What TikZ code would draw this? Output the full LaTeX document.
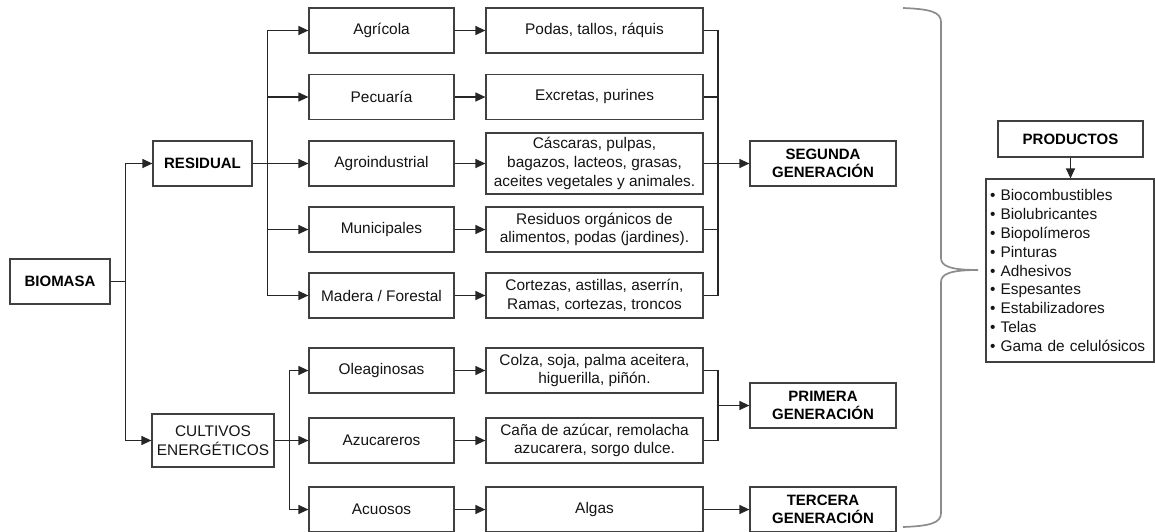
\documentclass[tikz,border=0pt]{standalone}
\usepackage{fontspec}
\setmainfont{Liberation Sans}
\usetikzlibrary{arrows.meta}
\begin{document}
\begin{tikzpicture}[x=1pt,y=-1pt,
  box/.style={draw=black!75, line width=1.2pt, fill=white, align=center, inner sep=2pt,
    text=black!92, font=\fontsize{15.4}{18.6}\selectfont},
  bbox/.style={box, text=black, font=\bfseries\fontsize{15}{18}\selectfont},
  c1/.style={box, minimum width=145pt, minimum height=45pt},
  c2/.style={box, minimum width=217pt, minimum height=45pt},
  gen/.style={bbox, minimum width=146pt, minimum height=45pt},
  ln/.style={draw=black!85, line width=1.2pt},
  arr/.style={ln, -{Triangle[length=10pt,width=9pt]}},
  brace/.style={draw=black!45, line width=1.7pt}]
\useasboundingbox (0,0) rectangle (1155,531);

% left
\node[bbox, minimum width=100pt, minimum height=45pt] (biomasa) at (60,281.5) {BIOMASA};
\node[bbox, minimum width=99pt, minimum height=45pt] (residual) at (202.5,163.5) {RESIDUAL};
\node[box, minimum width=122pt, minimum height=53pt] (cultivos) at (213,440.5) {CULTIVOS\\ENERGÉTICOS};

% column 1
\node[c1] (agricola) at (381.5,30.5) {Agrícola};
\node[c1] (pecuaria) at (381.5,97) {Pecuaría};
\node[c1] (agroind) at (381.5,163.5) {Agroindustrial};
\node[c1] (municip) at (381.5,229.5) {Municipales};
\node[c1] (madera) at (381.5,295.5) {Madera / Forestal};
\node[c1] (oleag) at (381.5,370.5) {Oleaginosas};
\node[c1] (azuc) at (381.5,440.5) {Azucareros};
\node[c1] (acuosos) at (381.5,509.5) {Acuosos};

% column 2
\node[c2] (podas) at (594.5,30.5) {Podas, tallos, ráquis};
\node[c2] (excretas) at (594.5,97) {Excretas, purines};
\node[c2, minimum height=61pt] (cascaras) at (594.5,163.5) {Cáscaras, pulpas,\\bagazos, lacteos, grasas,\\aceites vegetales y animales.};
\node[c2] (residuos) at (594.5,229.5) {Residuos orgánicos de\\alimentos, podas (jardines).};
\node[c2] (cortezas) at (594.5,295.5) {Cortezas, astillas, aserrín,\\Ramas, cortezas, troncos};
\node[c2] (colza) at (594.5,370.5) {Colza, soja, palma aceitera,\\higuerilla, piñón.};
\node[c2] (cana) at (594.5,440.5) {Caña de azúcar, remolacha\\azucarera, sorgo dulce.};
\node[c2] (algas) at (594.5,509.5) {Algas};

% generations
\node[gen] (segunda) at (823,163.5) {SEGUNDA\\GENERACIÓN};
\node[gen] (primera) at (823,405.5) {PRIMERA\\GENERACIÓN};
\node[gen] (tercera) at (823,509.5) {TERCERA\\GENERACIÓN};

% products
\node[bbox, minimum width=145pt, minimum height=36pt] (productos) at (1070.5,139) {PRODUCTOS};
\node[box, minimum width=168pt, minimum height=183pt, text width=160pt, align=left, inner sep=4pt,
  font=\fontsize{15.4}{18.8}\selectfont] (lista) at (1070,270.5)
  {• Biocombustibles\\• Biolubricantes\\• Biopolímeros\\• Pinturas\\• Adhesivos\\• Espesantes\\• Estabilizadores\\• Telas\\• Gama de celulósicos};

% connectors from biomasa
\draw[arr] (biomasa.east) -- ++(15,0) |- (residual.west);
\draw[arr] (biomasa.east) -- ++(15,0) |- (cultivos.west);

% residual branches
\foreach \n in {agricola,pecuaria,agroind,municip,madera}
  \draw[arr] (residual.east) -- ++(15,0) |- (\n.west);
% cultivos branches
\foreach \n in {oleag,azuc,acuosos}
  \draw[arr] (cultivos.east) -- ++(15,0) |- (\n.west);

% column 1 -> column 2
\draw[arr] (agricola) -- (podas);
\draw[arr] (pecuaria) -- (excretas);
\draw[arr] (agroind) -- (cascaras);
\draw[arr] (municip) -- (residuos);
\draw[arr] (madera) -- (cortezas);
\draw[arr] (oleag) -- (colza);
\draw[arr] (azuc) -- (cana);
\draw[arr] (acuosos) -- (algas);

% collectors
\coordinate (cS) at (718,163.5);
\coordinate (cP) at (718,405.5);
\foreach \n in {podas,excretas,cascaras,residuos,cortezas}
  \draw[ln] (\n.east) -| (cS);
\draw[ln] (podas.east) -| (cortezas.east -| cS);
\draw[arr] (cS) -- (segunda.west);
\draw[ln] (colza.east) -| (cP);
\draw[ln] (cana.east) -| (cP);
\draw[arr] (cP) -- (primera.west);
\draw[arr] (algas) -- (tercera);

% products
\draw[arr] (productos.south) -- (productos.south |- lista.north);

% brace
\draw[brace] (903,8) .. controls (930,9) and (941,12) .. (941,22)
  -- (941,258) .. controls (941,266) and (950,270) .. (978,270)
  .. controls (950,270) and (941,274) .. (941,282)
  -- (941,513) .. controls (941,523) and (930,526) .. (903,527);
\end{tikzpicture}
\end{document}
